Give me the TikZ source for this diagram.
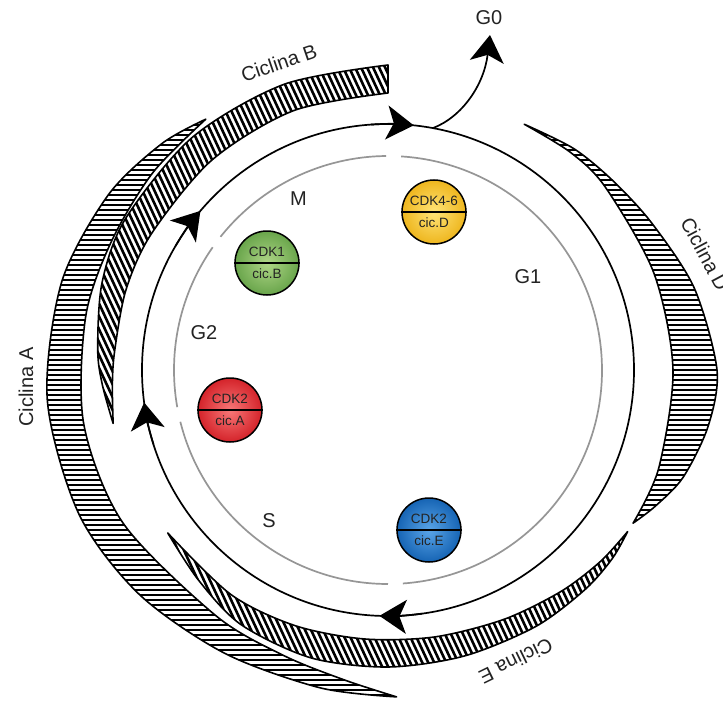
\documentclass[tikz,border=0pt]{standalone}
\usepackage{fontspec}
\setmainfont{Liberation Sans}
\usetikzlibrary{arrows.meta}
\definecolor{txt}{RGB}{35,35,35}
\definecolor{phasegray}{RGB}{150,150,150}
\definecolor{gIn}{RGB}{175,214,135}
\definecolor{gOut}{RGB}{105,165,75}
\definecolor{yIn}{RGB}{255,228,120}
\definecolor{yOut}{RGB}{238,182,30}
\definecolor{rIn}{RGB}{248,120,120}
\definecolor{rOut}{RGB}{212,35,42}
\definecolor{bIn}{RGB}{90,165,232}
\definecolor{bOut}{RGB}{22,100,180}
\def\bandA{plot[smooth] coordinates {(126:310) (135:320) (148:330) (165:338) (185:342) (205:341) (222:335) (240:327) (258:325) (271.5:327)} -- plot[smooth] coordinates {(271.5:327) (262:313) (250:304) (235:300) (210:306) (190:309) (170:307) (155:305) (140:307) (126:310)} -- cycle}
\def\bandB{plot[smooth] coordinates {(90:305) (110:304) (130:304) (150:303) (163:299) (176:291) (183:286) (191:280)} -- plot[smooth] coordinates {(191:280) (183:276) (176:274) (163:274) (150:273) (130:274) (110:276) (90:277)} -- cycle}
\def\bandE{plot[smooth] coordinates {(216.5:274) (228:283) (240:294) (255:298) (270:297) (285:296) (300:296) (312:295) (320:293) (326:289)} -- plot[smooth] coordinates {(326:289) (318:286) (308:281) (295:275) (280:271) (265:270) (250:272) (235:274) (216.5:274)} -- cycle}
\def\bandD{plot[smooth] coordinates {(61:281) (50:289) (40:294) (29:302) (15:317) (0:329) (-10:325) (-20:314) (-27:300) (-32:289)} -- plot[smooth] coordinates {(-32:289) (-20:288) (0:285) (20:283) (40:284) (50:284) (61:281)} -- cycle}
\begin{document}
\begin{tikzpicture}[x=1pt,y=1pt,
  cyc/.style={line width=1.7pt, draw=black},
  phasearc/.style={line width=1.7pt, draw=phasegray},
  cyctip/.style={-{Stealth[length=27pt,width=34pt,inset=7pt]}, line width=1.7pt},
  bandedge/.style={line width=1.6pt, line join=round, draw=black},
  hatch/.style={line width=2.6pt, draw=black},
  lbl/.style={font=\fontsize{20}{20}\selectfont, text=txt, inner sep=0pt},
  cdkball/.style={circle, draw=black, line width=1.5pt, minimum size=64pt, inner sep=0pt},
  cdktxt/.style={font=\fontsize{13.5}{14}\selectfont, text=txt, inner sep=0pt},
  divider/.style={line width=1.8pt, draw=black},
]
\fill[white] (-388,-332) rectangle (335,370);
\useasboundingbox (-388,-332) rectangle (335,370);
% hatched cyclin bands
\begin{scope}
  \clip \bandA;
  \foreach \yy in {-360,-355,...,372} \draw[hatch] (-400,\yy) -- (400,\yy);
\end{scope}
\draw[bandedge] \bandA;
\begin{scope}
  \clip \bandD;
  \foreach \yy in {-360,-355,...,372} \draw[hatch] (-400,\yy) -- (400,\yy);
\end{scope}
\draw[bandedge] \bandD;
\begin{scope}
  \clip \bandB;
  \foreach \xx in {-450,-444,...,400} \draw[hatch] (\xx-190,408) -- (\xx+190,-408);
\end{scope}
\draw[bandedge] \bandB;
\begin{scope}
  \clip \bandE;
  \foreach \xx in {-450,-444,...,400} \draw[hatch] (\xx-190,408) -- (\xx+190,-408);
\end{scope}
\draw[bandedge] \bandE;
% phase ring (gray) with gaps
\draw[phasearc] (90.5:214) arc[start angle=90.5, end angle=141.5, radius=214];
\draw[phasearc] (145:214) arc[start angle=145, end angle=190, radius=214];
\draw[phasearc] (194:214) arc[start angle=194, end angle=270, radius=214];
\draw[phasearc] (274:214) arc[start angle=274, end angle=446.5, radius=214];
% cycle ring with arrows
\draw[cyc] (0,0) circle[radius=246];
\foreach \a in {84,139.7,187.6,268}
  \draw[cyctip] (\a+10:246) arc[start angle=\a+10, end angle=\a, radius=246];
% exit to G0
\coordinate (g0s) at (79.5:246);
\coordinate (g0t) at (102,335);
\draw[cyctip] (g0s) .. controls (74,253) and (96,285) .. (g0t);
\node[lbl] (g0) at (101,352.5) {G0};
% phase labels
\node[lbl] (m) at (-89.5,171.5) {M};
\node[lbl] (g1) at (140,93) {G1};
\node[lbl] (g2) at (-184,37) {G2};
\node[lbl] (s) at (-119,-151) {S};
% cyclin labels
\node[lbl, rotate=19] (cb) at (-109,307) {Ciclina B};
\node[lbl, rotate=90] (ca) at (-362,-17) {Ciclina A};
\node[lbl, rotate=-62] (cd) at (317,116) {Ciclina D};
\node[lbl, rotate=206] (ce) at (128,-291) {Ciclina E};
% CDK complexes
\node[cdkball, inner color=gIn, outer color=gOut] (k1) at (-121,107) {};
\node[cdkball, inner color=yIn, outer color=yOut] (k46) at (46,158) {};
\node[cdkball, inner color=rIn, outer color=rOut] (k2a) at (-158,-40) {};
\node[cdkball, inner color=bIn, outer color=bOut] (k2e) at (41,-160) {};
\foreach \k/\up/\lo in {k1/CDK1/cic.B, k46/CDK4-6/cic.D, k2a/CDK2/cic.A, k2e/CDK2/cic.E}{
  \draw[divider] (\k.west) -- (\k.east);
  \node[cdktxt] (\k-up) at ([yshift=11pt]\k.center) {\up};
  \node[cdktxt] (\k-lo) at ([yshift=-11pt]\k.center) {\lo};
}
\end{tikzpicture}
\end{document}
